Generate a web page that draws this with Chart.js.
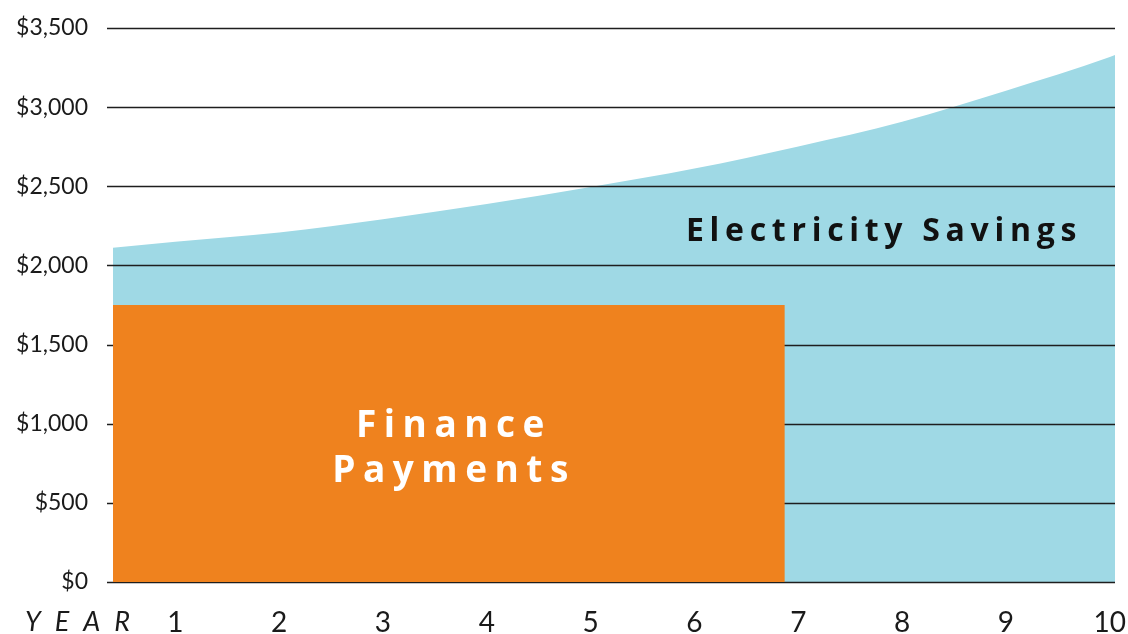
<!DOCTYPE html>
<html>
<head>
<meta charset="utf-8">
<script src="https://cdn.jsdelivr.net/npm/chart.js@4"></script>
<style>
  html, body { margin: 0; padding: 0; background: #fff; }
  #wrap { width: 1128px; height: 634px; }
</style>
</head>
<body>
<div id="wrap"><canvas id="savingsChart"></canvas></div>
<script>
// values
const years = [0.4, 1, 2, 3, 4, 5, 6, 7, 8, 9, 10, 10.05];
const savings = [2112, 2150, 2208, 2292, 2388, 2495, 2612, 2752, 2908, 3104, 3316, 3329];
const financeYears = [0.4, 6.87];
const financePayments = [1750, 1750];
const yearTicks = [1, 2, 3, 4, 5, 6, 7, 8, 9, 10];
const dollarTicks = [0, 500, 1000, 1500, 2000, 2500, 3000, 3500];

const BLUE = '#9fd9e5';
const ORANGE = '#ef821e';
const FONT = 'Lato, "Open Sans", sans-serif';
const BOLD_FONT = '"Open Sans", Lato, sans-serif';

// grid lines sit on top of the blue area but under the orange block
const gridOverBlue = {
  id: 'gridOverBlue',
  afterDatasetDraw(chart, args) {
    if (args.index !== 1) return;
    const { ctx, chartArea, scales } = chart;
    ctx.save();
    ctx.strokeStyle = '#1e1e1e';
    ctx.lineWidth = 1.6;
    dollarTicks.forEach(v => {
      const py = Math.round(scales.y.getPixelForValue(v)) + 0.5;
      ctx.beginPath();
      ctx.moveTo(chartArea.left - 6, py);
      ctx.lineTo(chartArea.right, py);
      ctx.stroke();
    });
    ctx.restore();
  }
};

const labels = {
  id: 'labels',
  afterDraw(chart) {
    const ctx = chart.ctx;
    ctx.save();
    ctx.textBaseline = 'alphabetic';

    ctx.fillStyle = '#111';
    ctx.font = 'bold 32px ' + BOLD_FONT;
    ctx.letterSpacing = '5.7px';
    ctx.textAlign = 'left';
    ctx.fillText('Electricity Savings', 686, 241);

    ctx.fillStyle = '#fff';
    ctx.font = 'bold 37px ' + BOLD_FONT;
    ctx.letterSpacing = '7.5px';
    ctx.textAlign = 'center';
    ctx.fillText('Finance', 454, 437);
    ctx.fillText('Payments', 454, 482);

    ctx.fillStyle = '#1a1a1a';
    ctx.font = 'italic 27px ' + FONT;
    ctx.letterSpacing = '14px';
    ctx.textAlign = 'left';
    ctx.fillText('YEAR', 25, 631);
    ctx.restore();
  }
};

new Chart(document.getElementById('savingsChart'), {
  type: 'line',
  data: {
    datasets: [
      {
        label: 'Finance Payments',
        data: financeYears.map((x, i) => ({ x: x, y: financePayments[i] })),
        backgroundColor: ORANGE,
        borderWidth: 0,
        pointRadius: 0,
        fill: 'origin'
      },
      {
        label: 'Electricity Savings',
        data: years.map((x, i) => ({ x: x, y: savings[i] })),
        backgroundColor: BLUE,
        borderWidth: 0,
        pointRadius: 0,
        cubicInterpolationMode: 'monotone',
        fill: 'origin'
      }
    ]
  },
  options: {
    responsive: true,
    maintainAspectRatio: false,
    animation: false,
    layout: { padding: { top: 28, right: 13, bottom: 0, left: 0 } },
    plugins: { legend: { display: false }, tooltip: { enabled: false } },
    scales: {
      x: {
        type: 'linear',
        min: 0.4,
        max: 10.05,
        afterBuildTicks: s => { s.ticks = yearTicks.map(v => ({ value: v })); },
        afterFit: s => { s.height = 52; s.paddingLeft = 0; s.paddingRight = 0; },
        grid: { display: false, drawTicks: false },
        border: { display: false },
        ticks: {
          padding: 24,
          color: '#1a1a1a',
          font: { family: FONT, size: 28 }
        }
      },
      y: {
        min: 0,
        max: 3500,
        afterBuildTicks: s => { s.ticks = dollarTicks.map(v => ({ value: v })); },
        afterFit: s => { s.width = 113; s.paddingTop = 0; s.paddingBottom = 0; },
        grid: { display: false, drawTicks: false },
        border: { display: false },
        ticks: {
          padding: 25,
          color: '#1a1a1a',
          font: { family: FONT, size: 23 },
          callback: v => '$' + v.toLocaleString('en-US')
        }
      }
    }
  },
  plugins: [gridOverBlue, labels]
});
</script>
</body>
</html>
